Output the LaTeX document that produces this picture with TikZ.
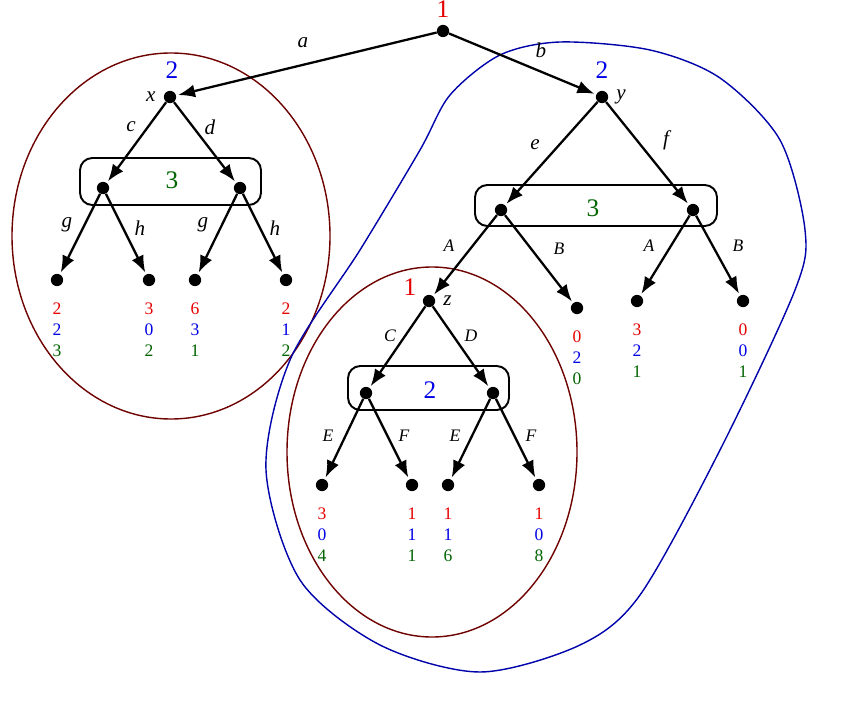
\documentclass[tikz,border=0pt]{standalone}
\usepackage{fontspec}
\setmainfont{Liberation Serif}
\usepackage{xcolor}
\usetikzlibrary{arrows.meta,calc,positioning}
\definecolor{pred}{RGB}{230,0,0}
\definecolor{pblue}{RGB}{0,0,230}
\definecolor{pgreen}{RGB}{0,100,0}
\definecolor{ovalred}{RGB}{110,0,0}
\definecolor{regblue}{RGB}{0,0,170}
\begin{document}
\begin{tikzpicture}[x=0.02cm,y=-0.02cm,
  dot/.style={circle, fill=black, inner sep=0pt, minimum size=7pt},
  arr/.style={-{Latex[length=3.4mm,width=2.6mm]}, line width=1.3pt, shorten >=1pt},
  infoset/.style={draw, line width=1.1pt, rounded corners=7pt},
  lbl/.style={font=\large\itshape},
  pay/.style={align=center, font=\normalsize, inner sep=0pt}
]
  \useasboundingbox (0,0) rectangle (847,709);
  % player sets
  \draw[ovalred, thick] (171,236) ellipse [x radius=159, y radius=183];
  \draw[ovalred, thick] (432,452) ellipse [x radius=145, y radius=185];
  \draw[regblue, thick] plot[smooth cycle, tension=0.5] coordinates {
    (450,95) (500,55) (560,42) (650,50) (720,78) (780,140) (805,230)
    (795,290) (720,450) (640,595) (580,645) (480,672) (380,645) (300,580)
    (266,470) (290,360) (360,250) (420,150)};
  % information sets
  \draw[infoset] (80,158) rectangle (261,205);
  \draw[infoset] (475,185) rectangle (717,226);
  \draw[infoset] (348,366) rectangle (509,410);
  \node[text=pgreen, font=\Large] at (172,180) {3};
  \node[text=pgreen, font=\Large] at (593,208) {3};
  \node[text=pblue, font=\Large] at (430,390) {2};
  % decision nodes
  \node[dot] (r) at (443,31) {};
  \node[dot] (x) at (170,97) {};
  \node[dot] (y) at (602,97) {};
  \node[dot] (x1) at (103,188) {};
  \node[dot] (x2) at (240,188) {};
  \node[dot] (y1) at (501,210) {};
  \node[dot] (y2) at (693,210) {};
  \node[dot] (z) at (429,301) {};
  \node[dot] (z1) at (366,393) {};
  \node[dot] (z2) at (493,393) {};
  % terminal nodes
  \node[dot] (t1) at (57,280) {};
  \node[dot] (t2) at (149,280) {};
  \node[dot] (t3) at (195,280) {};
  \node[dot] (t4) at (286,280) {};
  \node[dot] (t5) at (577,308) {};
  \node[dot] (t6) at (637,301) {};
  \node[dot] (t7) at (743,301) {};
  \node[dot] (t8) at (322,485) {};
  \node[dot] (t9) at (412,485) {};
  \node[dot] (t10) at (448,485) {};
  \node[dot] (t11) at (539,485) {};
  % players and node names
  \node[text=pred, font=\Large, inner sep=0pt] at (443,9) {1};
  \node[text=pblue, font=\Large] at (172,70) {2};
  \node[text=pblue, font=\Large] at (602,70) {2};
  \node[text=pred, font=\Large] at (410,287) {1};
  \node[lbl, left=1pt of x] {x};
  \node[lbl, right=1pt of y] {y};
  \node[lbl, right=1pt of z] {z};
  % moves
  \draw[arr] (r) -- (x);  \draw[arr] (r) -- (y);
  \draw[arr] (x) -- (x1); \draw[arr] (x) -- (x2);
  \draw[arr] (x1) -- (t1); \draw[arr] (x1) -- (t2);
  \draw[arr] (x2) -- (t3); \draw[arr] (x2) -- (t4);
  \draw[arr] (y) -- (y1); \draw[arr] (y) -- (y2);
  \draw[arr] (y1) -- (z); \draw[arr] (y1) -- (t5);
  \draw[arr] (y2) -- (t6); \draw[arr] (y2) -- (t7);
  \draw[arr] (z) -- (z1); \draw[arr] (z) -- (z2);
  \draw[arr] (z1) -- (t8); \draw[arr] (z1) -- (t9);
  \draw[arr] (z2) -- (t10); \draw[arr] (z2) -- (t11);
  \node[lbl] at (303,43) {a};
  \node[lbl] at (541,50) {b};
  \node[lbl] at (131,127) {c};
  \node[lbl] at (210,127) {d};
  \node[lbl] at (535,145) {e};
  \node[lbl] at (666,140) {f};
  \node[lbl] at (67,225) {g};
  \node[lbl] at (140,228) {h};
  \node[lbl] at (203,225) {g};
  \node[lbl] at (275,228) {h};
  \node[lbl, font=\itshape] at (449,246) {A};
  \node[lbl, font=\itshape] at (559,249) {B};
  \node[lbl, font=\itshape] at (649,246) {A};
  \node[lbl, font=\itshape] at (738,246) {B};
  \node[lbl, font=\itshape] at (390,336) {C};
  \node[lbl, font=\itshape] at (471,336) {D};
  \node[lbl, font=\itshape] at (328,436) {E};
  \node[lbl, font=\itshape] at (404,436) {F};
  \node[lbl, font=\itshape] at (455,436) {E};
  \node[lbl, font=\itshape] at (531,436) {F};
  % payoffs
  \foreach \t/\p/\q/\s in {t1/2/2/3, t2/3/0/2, t3/6/3/1, t4/2/1/2,
      t5/0/2/0, t6/3/2/1, t7/0/0/1, t8/3/0/4, t9/1/1/1, t10/1/1/6, t11/1/0/8}
    \node[pay, below=9pt of \t] {\textcolor{pred}{\p}\\\textcolor{pblue}{\q}\\\textcolor{pgreen}{\s}};
\end{tikzpicture}
\end{document}
